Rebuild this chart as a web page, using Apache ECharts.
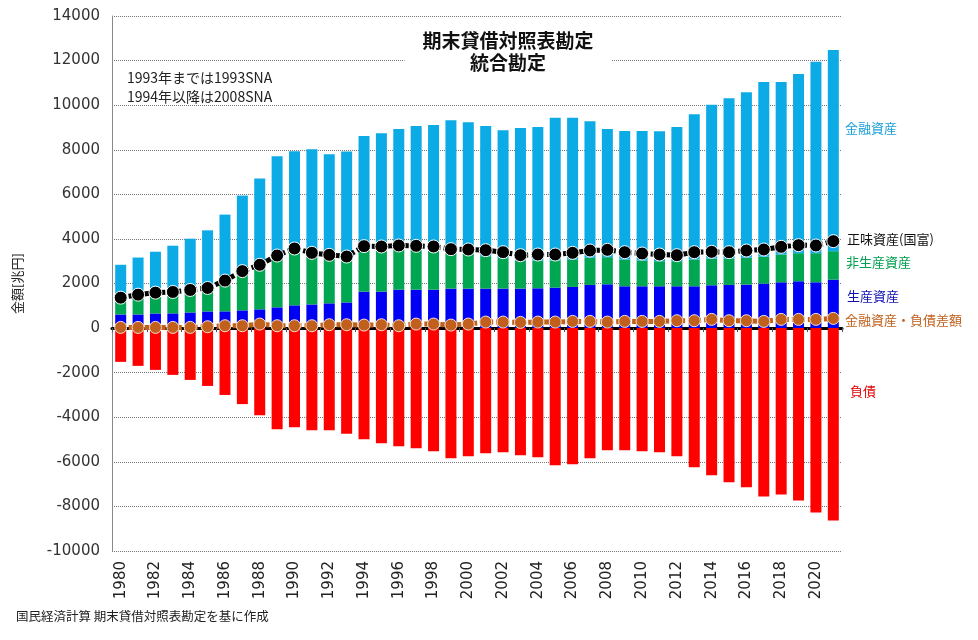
<!DOCTYPE html>
<html><head><meta charset="utf-8">
<script src="https://cdn.jsdelivr.net/npm/echarts@6/dist/echarts.min.js"></script>
<style>html,body{margin:0;padding:0;background:#fff}#c{width:978px;height:640px}</style>
</head><body><div id="c"></div>
<script>
var years = [];
for (var y = 1980; y <= 2021; y++) years.push(String(y));
var produced = [610,610,655,660,700,745,750,795,840,930,1020,1060,1110,1150,1635,1635,1725,1725,1725,1770,1770,1770,1770,1770,1785,1815,1845,1935,1965,1875,1875,1875,1875,1875,1920,1935,1950,1995,2055,2100,2055,2175];
var nonProduced = [640,790,845,890,950,975,1250,1625,1840,2190,2430,2200,2010,1910,1905,1875,1855,1785,1755,1640,1575,1455,1365,1245,1245,1215,1235,1215,1215,1200,1155,1125,1125,1200,1185,1170,1200,1200,1245,1260,1305,1275];
var financial = [1590,1765,1925,2145,2360,2665,3090,3525,4030,4585,4480,4760,4675,4865,5075,5225,5355,5560,5635,5915,5890,5845,5740,5965,5995,6400,6350,6130,5755,5770,5815,5830,6025,6520,6910,7210,7435,7840,7735,8035,8590,9025];
var liabilities = [-1515,-1695,-1875,-2100,-2325,-2595,-3000,-3410,-3905,-4535,-4445,-4580,-4580,-4745,-4985,-5165,-5300,-5390,-5525,-5840,-5750,-5615,-5570,-5705,-5795,-6155,-6110,-5840,-5480,-5480,-5525,-5570,-5750,-6245,-6605,-6920,-7145,-7555,-7465,-7735,-8275,-8635];
var netWorth = [1365,1500,1590,1620,1710,1800,2130,2555,2840,3255,3570,3375,3285,3210,3675,3660,3705,3690,3660,3540,3525,3495,3405,3270,3300,3300,3375,3480,3510,3405,3345,3300,3270,3405,3420,3405,3480,3525,3645,3720,3705,3900];
var finNet = [30,30,30,30,30,60,105,105,180,105,105,105,150,150,135,150,105,180,180,135,180,270,270,255,270,270,300,300,270,300,300,300,330,330,390,330,330,300,390,390,390,435];
var yTicks = [-10000,-8000,-6000,-4000,-2000,0,2000,4000,6000,8000,10000,12000,14000];

var chart = echarts.init(document.getElementById('c'));
var dashed = [5, 3];
chart.setOption({
  animation: false,
  backgroundColor: '#fff',
  title: {
    text: '期末貸借対照表勘定\n統合勘定',
    left: 490, top: 28, textAlign: 'center',
    backgroundColor: '#fff', padding: [2, 18],
    textStyle: {fontSize: 19, fontWeight: 'bold', color: '#111', lineHeight: 22, fontFamily: 'Noto Sans CJK JP'}
  },
  grid: {left: 112, right: 136, top: 16, bottom: 89},
  xAxis: [{
    type: 'category', data: years, position: 'bottom',
    axisLine: {show: false, onZero: false}, axisTick: {show: false},
    axisLabel: {rotate: 90, interval: 1, fontSize: 15, color: '#222', fontFamily: 'DejaVu Sans', margin: 10}
  }, {
    type: 'category', data: years, position: 'bottom',
    axisLine: {show: true, onZero: true, lineStyle: {color: '#000', width: 3}},
    axisTick: {show: true, alignWithLabel: false, length: 4, lineStyle: {color: '#555'}},
    axisLabel: {show: false}
  }],
  yAxis: {
    type: 'value', min: yTicks[0], max: yTicks[yTicks.length - 1], interval: 2000,
    name: '金額[兆円]', nameLocation: 'middle', nameGap: 88, nameRotate: 90,
    nameTextStyle: {fontSize: 13, color: '#222', fontFamily: 'Noto Sans CJK JP'},
    axisLine: {show: true, lineStyle: {color: '#888', width: 1}},
    axisTick: {show: false},
    axisLabel: {fontSize: 15, color: '#333', fontFamily: 'DejaVu Sans', margin: 12, formatter: function (v) { return String(v); }},
    splitLine: {lineStyle: {type: 'dotted', color: '#777', width: 1}}
  },
  series: [
    {name: '生産資産', type: 'bar', stack: 'a', data: produced, barWidth: 11, itemStyle: {color: '#0000F5'}},
    {name: '非生産資産', type: 'bar', stack: 'a', data: nonProduced, barWidth: 11, itemStyle: {color: '#00A651'}},
    {name: '金融資産', type: 'bar', stack: 'a', data: financial, barWidth: 11, itemStyle: {color: '#0DABE6'}},
    {name: '負債', type: 'bar', stack: 'b', data: liabilities, barWidth: 11, barGap: '-100%', itemStyle: {color: '#FF0000'}},
    {name: '金融資産・負債差額', type: 'line', data: finNet, symbol: 'circle', symbolSize: 12, z: 5, showAllSymbol: true,
      lineStyle: {color: '#C0601C', width: 5, type: dashed},
      itemStyle: {color: '#C0601C', borderColor: '#F4E0D0', borderWidth: 1}},
    {name: '正味資産(国富)', type: 'line', data: netWorth, symbol: 'circle', symbolSize: 13, z: 6, showAllSymbol: true,
      lineStyle: {color: '#000', width: 5, type: dashed},
      itemStyle: {color: '#000', borderColor: '#fff', borderWidth: 1}}
  ],
  graphic: [
    {type: 'text', left: 127, top: 68, style: {text: '1993年までは1993SNA\n1994年以降は2008SNA', fontSize: 14, lineHeight: 19, fill: '#222', fontFamily: 'Noto Sans CJK JP'}},
    {type: 'text', left: 845, top: 122, style: {text: '金融資産', fontSize: 13, fill: '#1A9FD8', fontFamily: 'Noto Sans CJK JP'}},
    {type: 'text', left: 847, top: 233, style: {text: '正味資産(国富)', fontSize: 13, fill: '#111', fontFamily: 'Noto Sans CJK JP'}},
    {type: 'text', left: 846, top: 256, style: {text: '非生産資産', fontSize: 13, fill: '#00A050', fontFamily: 'Noto Sans CJK JP'}},
    {type: 'text', left: 847, top: 290, style: {text: '生産資産', fontSize: 13, fill: '#1010B0', fontFamily: 'Noto Sans CJK JP'}},
    {type: 'text', left: 845, top: 314, style: {text: '金融資産・負債差額', fontSize: 13, fill: '#C0601C', fontFamily: 'Noto Sans CJK JP'}},
    {type: 'text', left: 850, top: 385, style: {text: '負債', fontSize: 13, fill: '#E00000', fontFamily: 'Noto Sans CJK JP'}},
    {type: 'text', left: 16, top: 610, style: {text: '国民経済計算 期末貸借対照表勘定を基に作成', fontSize: 12.5, fill: '#222', fontFamily: 'Noto Sans CJK JP'}}
  ]
});
</script></body></html>
